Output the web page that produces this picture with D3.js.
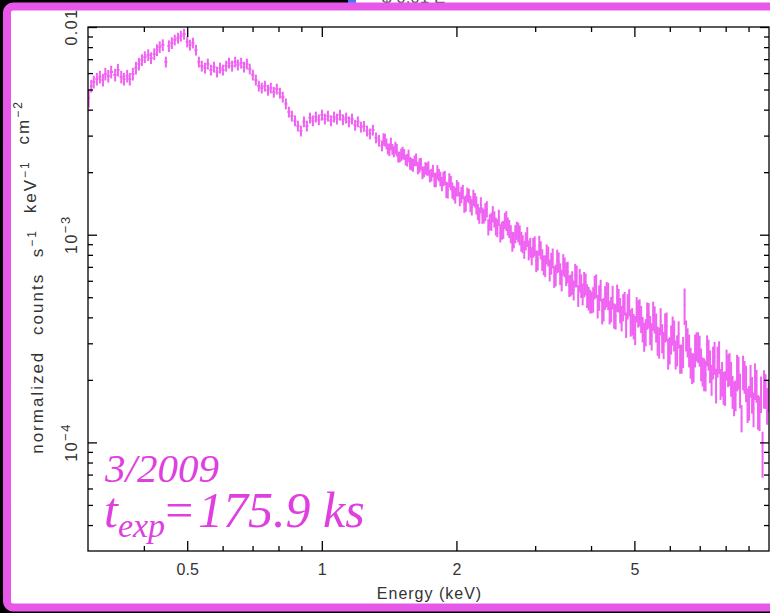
<!DOCTYPE html>
<html>
<head>
<meta charset="utf-8">
<script src="https://cdn.jsdelivr.net/npm/d3@7/dist/d3.min.js"></script>
<style>
    body { margin: 0; background: #000; }
    svg { display: block; }
    .axis path { display: none; }
    .axis line { stroke: #000; stroke-width: 1.3; }
    .axis text, .ylab, .xtitle, .ytitle { font-family: "Liberation Sans", Arial, sans-serif; font-size: 16px; fill: #333; }
    .note { font-family: "Liberation Serif", "Times New Roman", serif; font-style: italic; fill: #e03fe0; }
</style>
</head>
<body>
<svg id="chart" width="770" height="613"></svg>
<script>
// spectrum (flux in units of 1e-3 counts s^-1 keV^-1 cm^-2)
// first block: every channel from 0.3 keV, second block: the in-between channels above 1.36 keV
const energyKeV = [
    0.301, 0.305, 0.309, 0.314, 0.319, 0.324, 0.328, 0.333, 0.338, 0.345,
    0.350, 0.356, 0.361, 0.367, 0.372, 0.378, 0.384, 0.390, 0.396, 0.402,
    0.409, 0.415, 0.422, 0.428, 0.434, 0.441, 0.448, 0.455, 0.462, 0.469,
    0.477, 0.484, 0.492, 0.500, 0.507, 0.515, 0.523, 0.531, 0.539, 0.548,
    0.556, 0.565, 0.574, 0.583, 0.592, 0.601, 0.611, 0.620, 0.630, 0.640,
    0.649, 0.660, 0.670, 0.680, 0.690, 0.701, 0.712, 0.723, 0.734, 0.746,
    0.758, 0.769, 0.781, 0.793, 0.806, 0.818, 0.831, 0.844, 0.857, 0.871,
    0.884, 0.898, 0.912, 0.926, 0.941, 0.955, 0.970, 0.985, 1.001, 1.016,
    1.032, 1.048, 1.065, 1.081, 1.098, 1.115, 1.133, 1.150, 1.168, 1.187,
    1.204, 1.223, 1.242, 1.262, 1.281, 1.301, 1.322, 1.342,
    1.363, 1.384, 1.405, 1.427, 1.449, 1.471, 1.493, 1.516, 1.540, 1.563,
    1.587, 1.612, 1.640, 1.666, 1.692, 1.718, 1.744, 1.772, 1.799, 1.827,
    1.856, 1.884, 1.913, 1.943, 1.973, 2.004, 2.035, 2.067, 2.099, 2.132,
    2.165, 2.199, 2.233, 2.268, 2.303, 2.339, 2.375, 2.412, 2.450, 2.488,
    2.526, 2.566, 2.605, 2.646, 2.687, 2.729, 2.771, 2.814, 2.858, 2.902,
    2.947, 2.993, 3.040, 3.087, 3.135, 3.183, 3.233, 3.283, 3.334, 3.386,
    3.439, 3.492, 3.547, 3.602, 3.658, 3.715, 3.773, 3.831, 3.891, 3.951,
    4.013, 4.075, 4.139, 4.203, 4.268, 4.335, 4.402, 4.470, 4.540, 4.611,
    4.682, 4.755, 4.830, 4.905, 4.981, 5.059, 5.137, 5.217, 5.299, 5.381,
    5.465, 5.550, 5.636, 5.724, 5.813, 5.903, 5.995, 6.088, 6.183, 6.279,
    6.376, 6.475, 6.577, 6.679, 6.782, 6.888, 6.995, 7.104, 7.214, 7.326,
    7.440, 7.556, 7.674, 7.793, 7.914, 8.037, 8.162, 8.289, 8.418, 8.549,
    8.682, 8.817, 8.955, 9.094, 9.235, 9.379, 9.525, 9.673, 9.823, 9.980,
    1.374, 1.395, 1.416, 1.438, 1.460, 1.482, 1.505, 1.528, 1.552, 1.575,
    1.599, 1.625, 1.653, 1.679, 1.705, 1.731, 1.758, 1.786, 1.813, 1.841,
    1.870, 1.899, 1.928, 1.958, 1.988, 2.020, 2.051, 2.083, 2.115, 2.149,
    2.182, 2.216, 2.250, 2.286, 2.321, 2.357, 2.394, 2.431, 2.469, 2.507,
    2.546, 2.586, 2.625, 2.667, 2.708, 2.750, 2.793, 2.836, 2.880, 2.925,
    2.970, 3.016, 3.064, 3.111, 3.159, 3.208, 3.258, 3.309, 3.360, 3.412,
    3.466, 3.519, 3.575, 3.630, 3.687, 3.744, 3.802, 3.861, 3.921, 3.982,
    4.044, 4.107, 4.171, 4.236, 4.301, 4.369, 4.436, 4.505, 4.575, 4.647,
    4.719, 4.792, 4.868, 4.943, 5.020, 5.098, 5.177, 5.258, 5.340, 5.423,
    5.508, 5.593, 5.680, 5.769, 5.858, 5.949, 6.042, 6.135, 6.231, 6.328,
    6.426, 6.526, 6.628, 6.731, 6.835, 6.942, 7.050, 7.159, 7.270, 7.383,
    7.498, 7.615, 7.734, 7.854, 7.976, 8.100, 8.226, 8.354, 8.484, 8.616,
    8.750, 8.886, 9.025, 9.165, 9.307, 9.452, 9.599, 9.748, 9.900
];
const fluxE3 = [
    4.55, 5.20, 5.44, 5.62, 5.75, 5.56, 5.94, 5.81, 6.08, 5.88,
    6.21, 5.75, 5.62, 5.81, 5.62, 5.94, 6.35, 6.64, 6.94, 7.17,
    7.33, 7.09, 7.41, 7.75, 8.01, 8.19, 6.79, 8.10, 8.38, 8.67,
    8.85, 9.05, 9.25, 8.48, 8.19, 8.38, 7.75, 6.79, 6.49, 6.35,
    6.64, 6.21, 6.42, 6.08, 6.35, 6.21, 6.49, 6.71, 6.49, 6.79,
    6.57, 6.71, 6.42, 6.64, 6.28, 5.88, 5.56, 5.20, 5.09, 5.20,
    4.97, 5.09, 4.86, 5.03, 4.81, 4.60, 4.27, 3.90, 3.73, 3.54,
    3.34, 3.16, 3.50, 3.34, 3.65, 3.54, 3.69, 3.58, 3.77, 3.61,
    3.73, 3.54, 3.69, 3.61, 3.77, 3.58, 3.65, 3.50, 3.61, 3.37,
    3.50, 3.30, 3.33, 3.16, 3.06, 3.19, 2.93, 2.84,
    2.68, 2.86, 2.59, 2.74, 2.51, 2.56, 2.37, 2.48, 2.29, 2.40,
    2.19, 2.27, 2.10, 2.19, 2.01, 2.07, 1.92, 2.03, 1.84, 1.94,
    1.76, 1.88, 1.64, 1.78, 1.59, 1.68, 1.49, 1.61, 1.42, 1.54,
    1.36, 1.47, 1.29, 1.39, 1.23, 1.33, 1.15, 1.26, 1.10, 1.21,
    1.05, 1.17, 1.10, 1.01, 0.944, 1.05, 0.998, 0.904, 0.934, 0.845,
    0.791, 0.884, 0.756, 0.845, 0.716, 0.809, 0.677, 0.773, 0.641, 0.740,
    0.606, 0.700, 0.662, 0.574, 0.542, 0.634, 0.606, 0.519, 0.580, 0.496,
    0.475, 0.561, 0.454, 0.542, 0.439, 0.519, 0.425, 0.502, 0.406, 0.485,
    0.398, 0.469, 0.454, 0.380, 0.364, 0.439, 0.425, 0.352, 0.341, 0.411,
    0.326, 0.393, 0.311, 0.385, 0.296, 0.364, 0.279, 0.348, 0.267, 0.333,
    0.255, 0.459, 0.305, 0.244, 0.231, 0.292, 0.279, 0.221, 0.212, 0.267,
    0.202, 0.258, 0.247, 0.193, 0.185, 0.239, 0.228, 0.177, 0.170, 0.219,
    0.1315, 0.209, 0.153, 0.200, 0.146, 0.189, 0.140, 0.0901, 0.179, 0.170,
    2.88, 2.74, 2.57, 2.58, 2.62, 2.37, 2.43, 2.44, 2.29, 2.21,
    2.16, 2.30, 2.16, 1.99, 2.09, 2.09, 1.94, 1.84, 2.00, 1.86,
    1.86, 1.65, 1.83, 1.64, 1.55, 1.66, 1.56, 1.40, 1.56, 1.41,
    1.51, 1.39, 1.24, 1.24, 1.29, 1.09, 1.16, 1.19, 1.08, 1.02,
    1.06, 1.17, 1.07, 0.93, 1.01, 1.03, 0.93, 0.85, 0.98, 0.87,
    0.87, 0.75, 0.89, 0.76, 0.71, 0.79, 0.73, 0.63, 0.75, 0.65,
    0.72, 0.65, 0.57, 0.59, 0.64, 0.51, 0.57, 0.58, 0.51, 0.48,
    0.49, 0.57, 0.50, 0.43, 0.50, 0.51, 0.44, 0.41, 0.50, 0.435,
    0.45, 0.37, 0.475, 0.385, 0.35, 0.42, 0.395, 0.325, 0.41, 0.35,
    0.41, 0.36, 0.305, 0.32, 0.36, 0.27, 0.315, 0.33, 0.28, 0.255,
    0.275, 0.33, 0.28, 0.23, 0.28, 0.29, 0.24, 0.215, 0.28, 0.235,
    0.245, 0.19, 0.26, 0.205, 0.185, 0.225, 0.205, 0.165, 0.22, 0.18,
    0.22, 0.195, 0.157, 0.172, 0.20, 0.142, 0.173, 0.184, 0.152
];
// 1 sigma error, percent of flux
const errPct = [
    10, 7, 7, 7, 7, 7, 7, 7, 7, 7,
    7, 7, 7, 7, 7, 7, 7, 7, 6.5, 6.5,
    6.5, 6.5, 6.5, 6.5, 6.5, 6.5, 6, 6.5, 6.5, 6,
    6, 6, 6, 6, 6, 6, 6, 6, 6, 6,
    6, 6, 6, 6, 6, 6, 6, 6, 6, 6,
    6, 6, 6, 6, 6, 6, 6, 6, 6, 6,
    6, 6, 6, 6, 6, 6, 6, 6, 6, 6,
    6, 6, 6, 6, 6, 6, 6, 6, 6, 6,
    6, 6, 6, 6, 6, 6, 6, 6, 6, 6,
    6, 6, 6, 6, 6, 6, 6, 6.5,
    6, 7, 6, 7, 6, 7, 6, 7, 6, 7,
    7, 6, 7, 7, 6, 7, 7, 7, 8, 7,
    8, 8, 9, 8, 8, 9, 8, 8, 9, 8,
    9, 8, 9, 9, 8, 9, 9, 9, 10, 9,
    10, 9, 10, 10, 9, 10, 11, 10, 10, 11,
    10, 11, 11, 10, 11, 11, 12, 11, 12, 11,
    12, 11, 12, 12, 11, 12, 13, 12, 12, 13,
    12, 13, 13, 12, 13, 14, 13, 13, 14, 13,
    14, 13, 14, 15, 14, 14, 15, 14, 15, 14,
    15, 15, 16, 15, 15, 16, 15, 16, 16, 15,
    16, 20, 16, 17, 16, 16, 17, 16, 17, 17,
    17, 18, 17, 17, 18, 17, 18, 18, 17, 18,
    15, 18, 19, 18, 19, 18, 19, 25, 19, 18,
    7, 6, 7, 6, 7, 6, 7, 6, 7, 7,
    7, 7, 8, 7, 7, 8, 7, 8, 8, 8,
    8, 9, 8, 9, 9, 8, 9, 9, 8, 9,
    9, 10, 9, 9, 10, 9, 10, 9, 10, 10,
    10, 11, 10, 11, 10, 11, 11, 10, 11, 11,
    11, 12, 11, 12, 12, 11, 12, 12, 13, 12,
    12, 13, 12, 13, 13, 12, 13, 14, 13, 13,
    14, 13, 14, 14, 13, 15, 14, 14, 15, 14,
    15, 14, 15, 15, 16, 15, 15, 16, 15, 16,
    16, 16, 17, 16, 16, 17, 16, 17, 17, 16,
    17, 17, 18, 17, 18, 17, 18, 18, 17, 18,
    18, 19, 18, 19, 19, 18, 19, 19, 20, 19,
    19, 20, 19, 20, 20, 19, 20, 21, 20
];

// axis ticks and labels
const xMajor = [0.5, 1, 2, 5];
const xMajorLabels = ["0.5", "1", "2", "5"];
const xMinor = [0.4, 0.6, 0.7, 0.8, 0.9, 3, 4, 6, 7, 8, 9];
const yMajor = [1e-4, 1e-3, 1e-2];
const yMajorBase = ["10", "10", "0.01"];
const yMajorExp = ["\u22124", "\u22123", ""];
const yMinor = [4e-5, 5e-5, 6e-5, 7e-5, 8e-5, 9e-5,
                2e-4, 3e-4, 4e-4, 5e-4, 6e-4, 7e-4, 8e-4, 9e-4,
                2e-3, 3e-3, 4e-3, 5e-3, 6e-3, 7e-3, 8e-3, 9e-3];
const noteDate = "3/2009";
const noteExpo = "175.9 ks";

class SpectrumChart {

    constructor(){
        this.left = 88;
        this.right = 769;
        this.top = 27;
        this.bottom = 551;
        this.dataColor = "#f062f2";
        this.frameColor = "#e858e8";
        this.x = d3.scaleLog().domain([0.3, 10]).range([this.left, this.right]);
        this.y = d3.scaleLog().domain([3e-5, 1e-2]).range([this.bottom, this.top]);
    }

    drawFrame(svg){
        svg.append("rect").attr("width", 770).attr("height", 613).attr("fill", "#000");
        // strip of the window above the plot
        svg.append("rect").attr("x", 356).attr("y", 0).attr("width", 414).attr("height", 5).attr("fill", "#fff");
        svg.append("rect").attr("x", 348).attr("y", 0).attr("width", 8).attr("height", 3).attr("fill", "#3d7df5");
        svg.append("clipPath").attr("id", "stripclip")
            .append("rect").attr("x", 356).attr("y", 0).attr("width", 414).attr("height", 3.5);
        svg.append("text")
            .attr("clip-path", "url(#stripclip)")
            .attr("x", 382).attr("y", 2.5)
            .style("font", "17px 'Liberation Sans'")
            .attr("fill", "#555")
            .text("$        0.01 E");
        // magenta rounded border
        svg.append("rect")
            .attr("x", 7).attr("y", 6.5)
            .attr("width", 820).attr("height", 601)
            .attr("rx", 6)
            .attr("fill", "#fff")
            .attr("stroke", this.frameColor)
            .attr("stroke-width", 8);
    }

    drawAxes(svg){
        let x = this.x, y = this.y;

        svg.append("g").attr("class", "axis")
            .attr("transform", "translate(0," + this.bottom + ")")
            .call(d3.axisBottom(x).tickValues(xMajor).tickSizeInner(-10).tickSizeOuter(0)
                .tickPadding(12.5).tickFormat((d, i) => xMajorLabels[i]));
        svg.append("g").attr("class", "axis")
            .attr("transform", "translate(0," + this.bottom + ")")
            .call(d3.axisBottom(x).tickValues(xMinor).tickSizeInner(-5).tickSizeOuter(0).tickFormat(""));
        svg.append("g").attr("class", "axis")
            .attr("transform", "translate(0," + this.top + ")")
            .call(d3.axisTop(x).tickValues(xMajor).tickSizeInner(-10).tickSizeOuter(0).tickFormat(""));
        svg.append("g").attr("class", "axis")
            .attr("transform", "translate(0," + this.top + ")")
            .call(d3.axisTop(x).tickValues(xMinor).tickSizeInner(-5).tickSizeOuter(0).tickFormat(""));

        svg.append("g").attr("class", "axis")
            .attr("transform", "translate(" + this.left + ",0)")
            .call(d3.axisLeft(y).tickValues(yMajor).tickSizeInner(-9).tickSizeOuter(0).tickFormat(""));
        svg.append("g").attr("class", "axis")
            .attr("transform", "translate(" + this.left + ",0)")
            .call(d3.axisLeft(y).tickValues(yMinor).tickSizeInner(-5).tickSizeOuter(0).tickFormat(""));
        svg.append("g").attr("class", "axis")
            .attr("transform", "translate(" + this.right + ",0)")
            .call(d3.axisRight(y).tickValues(yMajor).tickSizeInner(-9).tickSizeOuter(0).tickFormat(""));
        svg.append("g").attr("class", "axis")
            .attr("transform", "translate(" + this.right + ",0)")
            .call(d3.axisRight(y).tickValues(yMinor).tickSizeInner(-5).tickSizeOuter(0).tickFormat(""));

        // box round the plot
        svg.append("rect")
            .attr("x", this.left).attr("y", this.top)
            .attr("width", this.right - this.left).attr("height", this.bottom - this.top)
            .attr("fill", "none").attr("stroke", "#000").attr("stroke-width", 1.3);

        // rotated y tick labels, 10^n written with a superscript
        yMajor.forEach(function(v, i){
            let t = svg.append("text")
                .attr("class", "ylab")
                .attr("text-anchor", "middle")
                .style("letter-spacing", "1.5px")
                .attr("transform", "translate(77," + y(v) + ")rotate(-90)");
            t.append("tspan").text(yMajorBase[i]);
            if (yMajorExp[i] !== ""){
                t.append("tspan").attr("dy", -7).style("font-size", "13px").text(yMajorExp[i]);
            }
        });

        svg.append("text")
            .attr("class", "xtitle")
            .attr("text-anchor", "middle")
            .style("letter-spacing", "1px")
            .attr("x", (this.left + this.right) / 2 + 1)
            .attr("y", 599)
            .text("Energy (keV)");

        let yt = svg.append("text")
            .attr("class", "ytitle")
            .attr("text-anchor", "middle")
            .style("font-size", "17px")
            .style("letter-spacing", "2px")
            .style("word-spacing", "9px")
            .attr("transform", "translate(43,277)rotate(-90)");
        let parts = [["normalized counts s", "\u22121"], [" keV", "\u22121"], [" cm", "\u22122"]];
        parts.forEach(function(p){
            yt.append("tspan").text(p[0]);
            yt.append("tspan").attr("dy", -7).style("font-size", "12px").text(p[1]);
            yt.append("tspan").attr("dy", 7).text("");
        });
    }

    drawData(svg){
        let x = this.x, y = this.y;

        let points = energyKeV.map(function(e, i){
            let f = fluxE3[i] * 1e-3;
            let err = f * errPct[i] / 100;
            return {e: e, f: f, fLo: f - err, fHi: f + err};
        }).sort((a, b) => a.e - b.e);

        // channel edges half way (in log) to the neighbours
        let n = points.length;
        points.forEach(function(d, i){
            let prev = i > 0 ? points[i - 1].e : d.e * d.e / points[i + 1].e;
            let next = i < n - 1 ? points[i + 1].e : d.e * d.e / points[i - 1].e;
            d.eLo = Math.sqrt(prev * d.e);
            d.eHi = Math.sqrt(next * d.e);
        });

        svg.append("clipPath").attr("id", "plotclip")
            .append("rect")
            .attr("x", this.left).attr("y", this.top)
            .attr("width", this.right - this.left).attr("height", this.bottom - this.top);

        let g = svg.append("g")
            .attr("clip-path", "url(#plotclip)")
            .attr("stroke", this.dataColor)
            .attr("stroke-width", 2);

        // vertical error bars
        g.selectAll(".ebar")
            .data(points)
            .enter().append("line")
            .attr("class", "ebar")
            .attr("x1", d => x(d.e)).attr("x2", d => x(d.e))
            .attr("y1", d => y(d.fHi)).attr("y2", d => y(d.fLo));

        // horizontal channel widths
        g.selectAll(".bin")
            .data(points)
            .enter().append("line")
            .attr("class", "bin")
            .attr("x1", d => x(d.eLo)).attr("x2", d => x(d.eHi))
            .attr("y1", d => y(d.f)).attr("y2", d => y(d.f));
    }

    drawNotes(svg){
        svg.append("text")
            .attr("class", "note")
            .attr("x", 105).attr("y", 482)
            .style("font-size", "41px")
            .text(noteDate);

        let t = svg.append("text")
            .attr("class", "note")
            .attr("x", 104).attr("y", 527)
            .style("font-size", "50px");
        t.append("tspan").text("t");
        t.append("tspan").attr("dy", 10).style("font-size", "34px").text("exp");
        t.append("tspan").attr("x", 162).attr("dy", -10).text("=");
        t.append("tspan").attr("x", 198).text(noteExpo);
    }

    update(){
        let svg = d3.select("#chart");
        this.drawFrame(svg);
        this.drawData(svg);
        this.drawAxes(svg);
        this.drawNotes(svg);
    }
}

let chart = new SpectrumChart();
chart.update();
</script>
</body>
</html>
